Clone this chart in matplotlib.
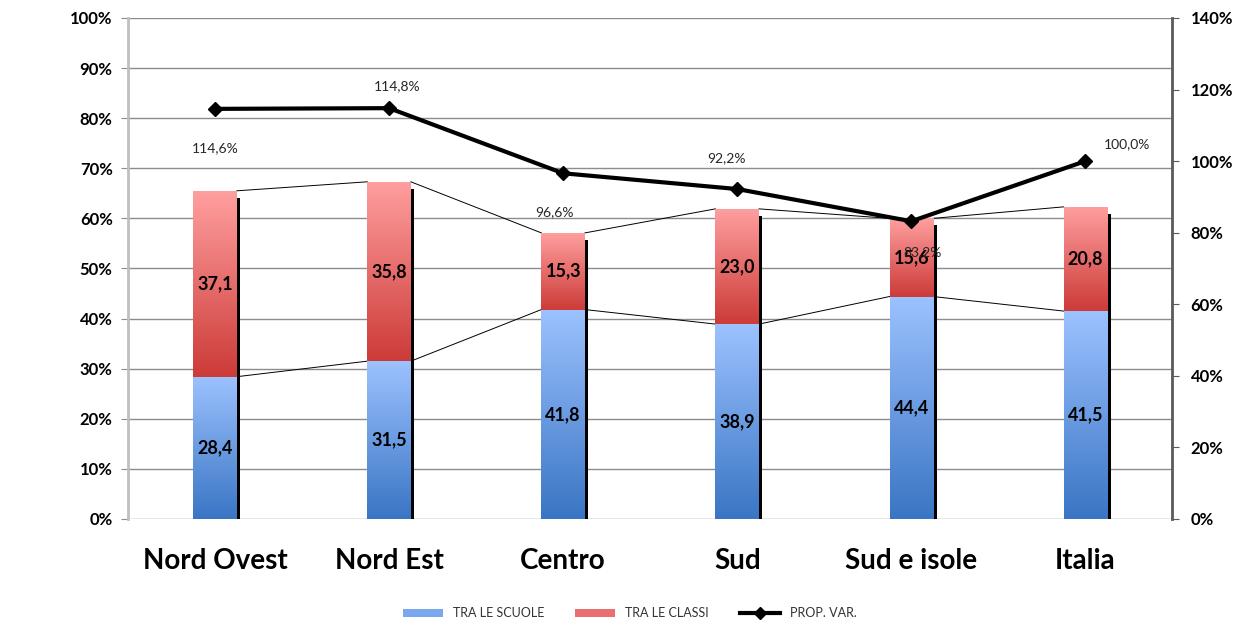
import matplotlib
matplotlib.use("Agg")
import matplotlib.pyplot as plt
import matplotlib.ticker as mticker
from matplotlib.colors import LinearSegmentedColormap
from matplotlib.patches import Patch
from matplotlib.lines import Line2D
import numpy as np

# data
regions = ["Nord Ovest", "Nord Est", "Centro", "Sud", "Sud e isole", "Italia"]
tra_scuole = [28.4, 31.5, 41.8, 38.9, 44.4, 41.5]
tra_classi = [37.1, 35.8, 15.3, 23.0, 15.6, 20.8]
prop_var = [114.6, 114.8, 96.6, 92.2, 83.2, 100.0]
prop_labels = ["114,6%", "114,8%", "96,6%", "92,2%", "83,2%", "100,0%"]
# label offsets (points) for the line labels, as placed in the original
label_offsets = [(0, -28), (6, 16), (-6, -28), (-8, 22), (8, -22), (30, 12)]

plt.rcParams['font.family'] = ['Lato', 'DejaVu Sans']

fig = plt.figure(figsize=(12.47, 6.35), dpi=100)
ax = fig.add_axes([0.1026, 0.1827, 0.8376, 0.789])
ax2 = ax.twinx()

x = np.arange(len(regions))
w = 0.25
tops = np.array(tra_scuole) + np.array(tra_classi)

blue_cm = LinearSegmentedColormap.from_list("b", ["#3a75c4", "#9cc2ff"])
red_cm = LinearSegmentedColormap.from_list("r", ["#cc3b38", "#ff9f9f"])

# shadow
ax.bar(x + 0.02, tops - 1.4, w, color="black", zorder=1)
b1 = ax.bar(x, tra_scuole, w, color="#7aa8ef", zorder=2)
b2 = ax.bar(x, tra_classi, w, bottom=tra_scuole, color="#e87070", zorder=2)

grad = np.linspace(0, 1, 256).reshape(-1, 1)
for bars, cm in [(b1, blue_cm), (b2, red_cm)]:
    for p in bars:
        bx, by = p.get_x(), p.get_y()
        bw, bh = p.get_width(), p.get_height()
        im = ax.imshow(grad, cmap=cm, origin="lower", aspect="auto",
                       extent=[bx, bx + bw, by, by + bh], zorder=3)
        im.set_clip_path(p)

# series lines between bars
for i in range(len(x) - 1):
    ax.plot([x[i] + w / 2, x[i + 1] - w / 2], [tops[i], tops[i + 1]],
            color="black", lw=0.7, zorder=2.5)
    ax.plot([x[i] + w / 2, x[i + 1] - w / 2], [tra_scuole[i], tra_scuole[i + 1]],
            color="black", lw=0.7, zorder=2.5)

for i in range(len(x)):
    ax.text(x[i], tra_scuole[i] / 2, f"{tra_scuole[i]:.1f}".replace(".", ","),
            ha="center", va="center", fontsize=13, fontweight="bold", zorder=5)
    ax.text(x[i], tra_scuole[i] + tra_classi[i] / 2,
            f"{tra_classi[i]:.1f}".replace(".", ","),
            ha="center", va="center", fontsize=13, fontweight="bold", zorder=5)

ax.set_xlim(-0.5, len(x) - 0.5)
ax.set_ylim(0, 100)
ax.yaxis.set_major_locator(mticker.MultipleLocator(10))
ax.yaxis.set_major_formatter(mticker.FuncFormatter(lambda v, p: f"{v:.0f}%"))
ax.grid(axis="y", color="#8c8c8c", lw=1)
ax.set_axisbelow(True)
ax.set_xticks(x)
ax.set_xticklabels(regions, fontsize=20, fontweight="bold")
ax.tick_params(axis="x", length=0, pad=21)
ax.tick_params(axis="y", length=5, color="#8c8c8c", labelsize=12, pad=6)
for t in ax.get_yticklabels():
    t.set_fontweight("bold")
for s in ["top", "bottom"]:
    ax.spines[s].set_visible(False)
ax.spines["left"].set_color("#bfbfbf")
ax.spines["left"].set_linewidth(2)
ax.spines["right"].set_visible(False)

# secondary line
ax2.plot(x, prop_var, color="black", lw=3, marker="D", markersize=7, zorder=6)
for i in range(len(x)):
    ax2.annotate(prop_labels[i], (x[i], prop_var[i]), xytext=label_offsets[i],
                 textcoords="offset points", ha="center", va="center",
                 fontsize=10, color="#262626")
ax2.set_ylim(0, 140)
ax2.yaxis.set_major_locator(mticker.MultipleLocator(20))
ax2.yaxis.set_major_formatter(mticker.FuncFormatter(lambda v, p: f"{v:.0f}%"))
ax2.tick_params(axis="y", length=5, color="#5a5a5a", labelsize=12, pad=8)
for t in ax2.get_yticklabels():
    t.set_fontweight("bold")
for s in ["top", "bottom", "left"]:
    ax2.spines[s].set_visible(False)
ax2.spines["right"].set_color("#5a5a5a")
ax2.spines["right"].set_linewidth(2)

handles = [Patch(facecolor="#7aa8ef", label="TRA LE SCUOLE"),
           Patch(facecolor="#e87070", label="TRA LE CLASSI"),
           Line2D([0], [0], color="black", lw=3, marker="D", markersize=6,
                  label="PROP. VAR.")]
fig.legend(handles=handles, loc="center", bbox_to_anchor=(0.505, 0.034), ncol=3,
           frameon=False, fontsize=9, handlelength=3.2, handleheight=0.6,
           columnspacing=2.5, labelcolor="#333333")

fig.savefig("out.png", dpi=100)
